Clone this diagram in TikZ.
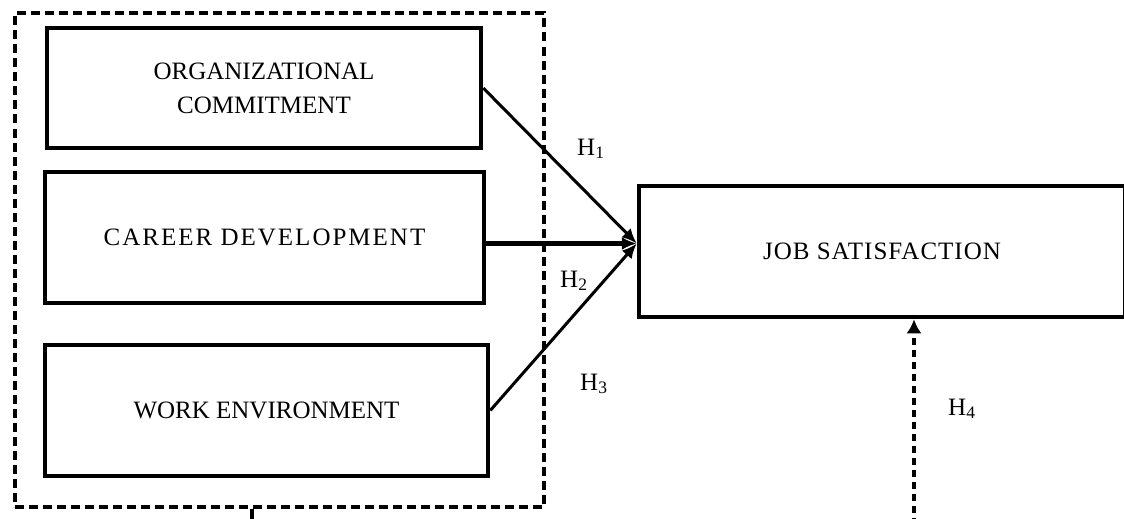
\documentclass[tikz,border=0pt]{standalone}
\usepackage{fontspec}
\setmainfont{Liberation Serif}
\usetikzlibrary{arrows.meta}
\tikzset{
	varbox/.style={draw, line width=4.5pt, inner sep=0pt, align=center, font=\fontsize{25}{34}\selectfont},
	hyplabel/.style={anchor=base west, inner sep=0pt, font=\fontsize{25}{30}\selectfont},
	pathline/.style={line width=3pt, -{Latex[length=15pt,width=13pt]}},
	groupline/.style={line width=4pt, dash pattern=on 9pt off 5pt}
}

\begin{document}
\begin{tikzpicture}[x=1pt,y=-1pt]
		\useasboundingbox (0,0) rectangle (1124,519);

		% Frame round the independent variables
		\node[draw, groupline, inner sep=0pt, minimum width=529pt, minimum height=493pt] (frame) at (279,260) {};

		% Variables
		\node[varbox, minimum width=434pt, minimum height=120pt] (OC) at (264,88) {ORGANIZATIONAL\\COMMITMENT};
		\node[varbox, minimum width=439pt, minimum height=131pt] (CD) at (264.5,237.5) {\addfontfeatures{LetterSpace=8}CAREER DEVELOPMENT};
		\node[varbox, minimum width=443pt, minimum height=131pt] (WE) at (266.5,410.5) {WORK ENVIRONMENT};
		\node[varbox, minimum width=486pt, minimum height=131pt] (JS) at (882,251.5) {\addfontfeatures{LetterSpace=4}JOB SATISFACTION};

		% Hypothesised paths
		\coordinate (tip) at ([yshift=8pt]JS.west);
		\draw[pathline] (OC.east) -- (tip);
		\draw[pathline, line width=4.5pt] (CD.east |- tip) -- (tip);
		\draw[pathline] (WE.east) -- (tip);

		% Path from the frame
		\coordinate (stubend) at (252,525);
		\coordinate (foot) at (914,525);
		\draw[line width=4pt] (frame.south -| stubend) -- (stubend);
		\draw[groupline, line width=3.5pt, dash pattern=on 7pt off 5pt, -{Latex[length=14pt,width=15pt]}] (foot) -- (JS.south -| foot);

		% Labels
		\node[hyplabel] (h1) at (577,155) {H\textsubscript{1}};
		\node[hyplabel] (h2) at (560,287) {H\textsubscript{2}};
		\node[hyplabel] (h3) at (580,390) {H\textsubscript{3}};
		\node[hyplabel] (h4) at (948,415) {H\textsubscript{4}};
	\end{tikzpicture}
\end{document}
